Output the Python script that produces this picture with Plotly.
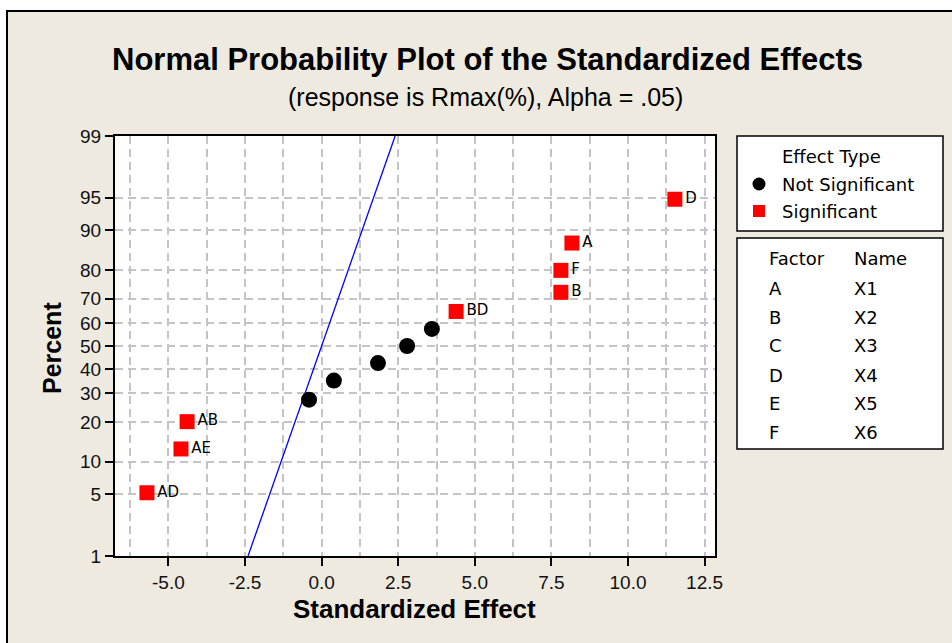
import plotly.graph_objects as go
from statistics import NormalDist

# ---------------- data ----------------
sig_labels = ["AD", "AE", "AB", "BD", "B", "F", "A", "D"]
sig_effect = [-5.70, -4.59, -4.39, 4.39, 7.81, 7.81, 8.17, 11.53]
sig_pct = [5.2, 12.7, 20.1, 64.9, 72.4, 79.9, 87.3, 94.8]

ns_effect = [-0.41, 0.40, 1.84, 2.79, 3.60]
ns_pct = [27.6, 35.1, 42.5, 50.0, 57.5]

line_effect = [-2.40, 2.40]
line_pct = [1, 99]

y_ticks_pct = [1, 5, 10, 20, 30, 40, 50, 60, 70, 80, 90, 95, 99]
x_tick_vals = [-5.0, -2.5, 0.0, 2.5, 5.0, 7.5, 10.0, 12.5]

factors = ["A", "B", "C", "D", "E", "F"]
names = ["X1", "X2", "X3", "X4", "X5", "X6"]

nd = NormalDist()
def z(p):
    return nd.inv_cdf(p / 100.0)

FONT = "Liberation Sans"
LFONT = "DejaVu Sans"
BEIGE = "#EEEAE0"
GRID = "#C4C4C4"

fig = go.Figure()

fig.add_trace(go.Scatter(
    x=line_effect, y=[z(p) for p in line_pct], mode="lines",
    line=dict(color="#0000FF", width=1.3), hoverinfo="skip", showlegend=False))

fig.add_trace(go.Scatter(
    x=ns_effect, y=[z(p) for p in ns_pct], mode="markers",
    marker=dict(symbol="circle", size=16, color="black"), showlegend=False))

fig.add_trace(go.Scatter(
    x=sig_effect, y=[z(p) for p in sig_pct], mode="markers+text",
    text=sig_labels, textposition="middle right",
    textfont=dict(family=LFONT, size=15, color="black"),
    marker=dict(symbol="square", size=15, color="#FF0000"), showlegend=False))

# ---------------- layout geometry ----------------
W, H = 952, 643
ML, MR, MT, MB = 115, 237, 136, 87
PW, PH = W - ML - MR, H - MT - MB

def px(x):
    return (x - ML) / PW

def py(y):
    return (H - MB - y) / PH

shapes = []
shapes.append(dict(type="rect", xref="paper", yref="paper", layer="below",
                   x0=px(7), x1=px(1010), y0=py(11), y1=py(700),
                   fillcolor=BEIGE, line=dict(color="black", width=2)))
shapes.append(dict(type="rect", xref="paper", yref="paper", layer="below",
                   x0=0, x1=1, y0=0, y1=1, fillcolor="white",
                   line=dict(width=0)))
shapes.append(dict(type="rect", xref="paper", yref="paper",
                   x0=px(737), x1=px(943), y0=py(231), y1=py(136),
                   fillcolor="white", line=dict(color="black", width=1.5)))
shapes.append(dict(type="rect", xref="paper", yref="paper",
                   x0=px(737), x1=px(943), y0=py(449), y1=py(238),
                   fillcolor="white", line=dict(color="black", width=1.5)))
r = 6.5
shapes.append(dict(type="circle", xref="paper", yref="paper",
                   x0=px(759 - r), x1=px(759 + r), y0=py(184 + r), y1=py(184 - r),
                   fillcolor="black", line=dict(color="black", width=0)))
s = 6
shapes.append(dict(type="rect", xref="paper", yref="paper",
                   x0=px(759 - s), x1=px(759 + s), y0=py(211 + s), y1=py(211 - s),
                   fillcolor="#FF0000", line=dict(color="#FF0000", width=0)))

annotations = []
annotations.append(dict(text="<b>Normal Probability Plot of the Standardized Effects</b>",
                        xref="paper", yref="paper", x=px(487), y=py(60),
                        showarrow=False, xanchor="center", yanchor="middle",
                        font=dict(family=FONT, size=31, color="black")))
annotations.append(dict(text="(response is Rmax(%), Alpha = .05)",
                        xref="paper", yref="paper", x=px(485), y=py(97),
                        showarrow=False, xanchor="center", yanchor="middle",
                        font=dict(family=FONT, size=25, color="black")))
annotations.append(dict(text="<b>Percent</b>", xref="paper", yref="paper",
                        x=px(52), y=py(348), textangle=-90, showarrow=False,
                        xanchor="center", yanchor="middle",
                        font=dict(family=FONT, size=25, color="black")))
annotations.append(dict(text="<b>Standardized Effect</b>", xref="paper", yref="paper",
                        x=px(414), y=py(609), showarrow=False,
                        xanchor="center", yanchor="middle",
                        font=dict(family=FONT, size=26, color="black")))

LF = dict(family=LFONT, size=18, color="black")
def leg_text(t, x, y):
    annotations.append(dict(text=t, xref="paper", yref="paper", x=px(x), y=py(y),
                            showarrow=False, xanchor="left", yanchor="middle", font=LF))

leg_text("Effect Type", 780, 156)
leg_text("Not Significant", 780, 184)
leg_text("Significant", 780, 211)
leg_text("Factor", 767, 258)
leg_text("Name", 852, 258)
row_y = [288, 317, 345, 375, 403, 433]
for f, n, yy in zip(factors, names, row_y):
    leg_text(f, 767, yy)
    leg_text(n, 852, yy)

x_lo = (115 - 321.6) / 30.64
x_hi = (715 - 321.6) / 30.64

fig.update_layout(
    width=W, height=H,
    margin=dict(l=ML, r=MR, t=MT, b=MB),
    paper_bgcolor="white",
    plot_bgcolor="white",
    shapes=shapes,
    annotations=annotations,
    showlegend=False,
    xaxis=dict(
        range=[x_lo, x_hi], tickvals=x_tick_vals,
        ticktext=["%.1f" % v for v in x_tick_vals],
        showgrid=True, gridcolor=GRID, griddash="8px,5px", gridwidth=1.5,
        minor=dict(tick0=0, dtick=1.25, showgrid=True, gridcolor=GRID,
                   griddash="8px,5px", gridwidth=1.5, ticks=""),
        zeroline=False, showline=True, linecolor="black", linewidth=2, mirror=True,
        ticks="outside", ticklen=8, tickwidth=1.5, tickcolor="black",
        tickfont=dict(family=FONT, size=19, color="#111"),
    ),
    yaxis=dict(
        range=[z(1), z(99)], tickvals=[z(p) for p in y_ticks_pct],
        ticktext=[str(p) for p in y_ticks_pct],
        showgrid=True, gridcolor=GRID, griddash="8px,5px", gridwidth=1.5,
        zeroline=False, showline=True, linecolor="black", linewidth=2, mirror=True,
        ticks="outside", ticklen=8, tickwidth=1.5, tickcolor="black",
        tickfont=dict(family=FONT, size=19, color="#111"),
    ),
)

fig.write_html("out.html")
